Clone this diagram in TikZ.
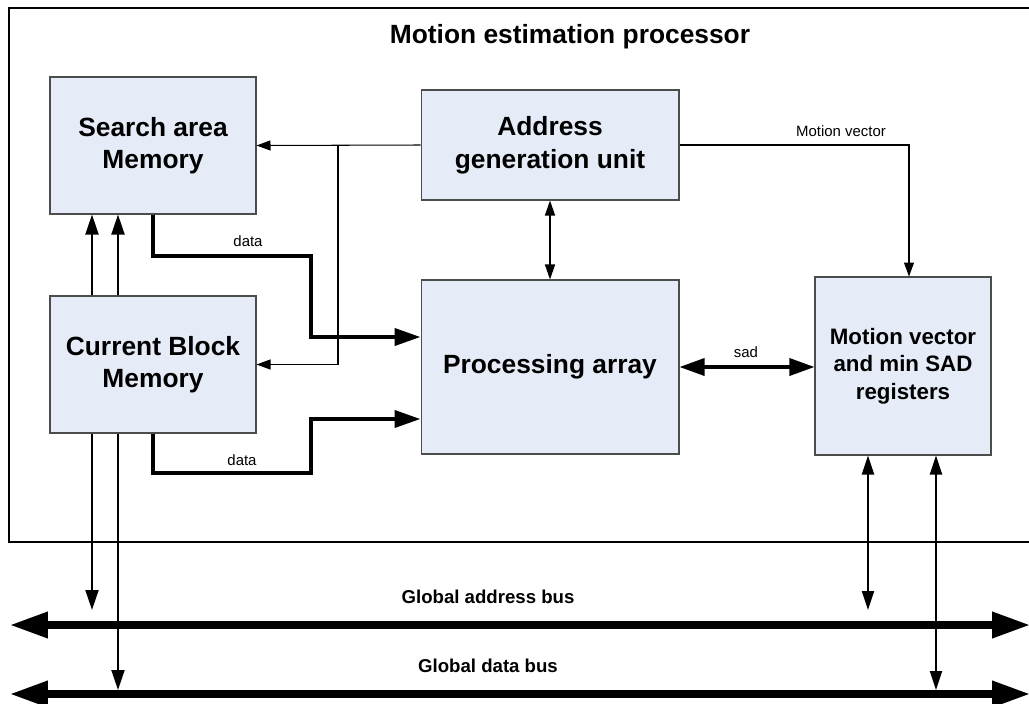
\documentclass[tikz,border=0pt]{standalone}
\usepackage{fontspec}
\setmainfont{Liberation Sans}
\usetikzlibrary{arrows.meta}
\definecolor{boxblue}{RGB}{230,236,247}
\begin{document}
\begin{tikzpicture}[x=0.02cm, y=-0.02cm,
    blk/.style={draw=black!70, fill=boxblue, line width=0.6pt, align=center, inner sep=0pt,
        font=\fontsize{15}{18.5}\selectfont\bfseries},
    lbl/.style={font=\fontsize{8.5}{10}\selectfont},
    buslbl/.style={font=\fontsize{10.6}{12}\selectfont\bfseries},
    sig/.style={line width=0.6pt, -{Triangle[length=0.28cm,width=0.2cm]}},
    ctl/.style={line width=1.1pt, -{Triangle[length=0.4cm,width=0.26cm]}},
    dat/.style={line width=2.3pt, -{Triangle[length=0.52cm,width=0.34cm]}},
    bus/.style={line width=4pt, {Triangle[length=0.76cm,width=0.5cm]}-{Triangle[length=0.76cm,width=0.5cm]}}]
    \useasboundingbox (0,0) rectangle (1029,704);
    % processor frame
    \draw[line width=0.9pt] (1040,8) -- (9,8) -- (9,542) -- (1040,542);
    \node[font=\fontsize{15}{18}\selectfont\bfseries] (title) at (570,37) {Motion estimation processor};
    % blocks
    \node[blk, minimum width=4.12cm, minimum height=2.74cm] (sam) at (153,145.5) {Search area\\Memory};
    \node[blk, minimum width=5.16cm, minimum height=2.2cm] (agu) at (550,145) {Address\\generation unit};
    \node[blk, minimum width=4.12cm, minimum height=2.74cm] (cbm) at (153,364.5) {Current Block\\Memory};
    \node[blk, minimum width=5.16cm, minimum height=3.48cm] (pa) at (550,367) {Processing array};
    \node[blk, minimum width=3.52cm, minimum height=3.56cm, font=\fontsize{12.7}{15.6}\selectfont\bfseries]
        (mv) at (903,366) {Motion vector\\and min SAD\\registers};
    % address lines
    \coordinate (br) at (338,145);
    \draw[sig] (agu.west) -- (sam.east);
    \draw[sig] (br) |- (cbm.east);
    \draw[line width=0.8pt, {Triangle[length=0.3cm,width=0.2cm]}-{Triangle[length=0.3cm,width=0.2cm]}] (agu.south) -- (pa.north);
    \draw[sig] (agu.east) -| (mv.north -| 909,0);
    \node[lbl] (mvlbl) at (841,131) {Motion vector};
    % memory to memory
    \draw[ctl] (cbm.north -| 92,0) -- (sam.south -| 92,0);
    \draw[ctl] (cbm.north -| 118,0) -- (sam.south -| 118,0);
    % data paths
    \draw[dat] (sam.south) |- (311,256) |- (pa.west |- 0,337);
    \node[lbl] (dat1) at (248,241) {data};
    \draw[dat] (cbm.south) |- (311,473) |- (pa.west |- 0,419);
    \node[lbl] (dat2) at (242,460) {data};
    \draw[line width=2pt, {Triangle[length=0.5cm,width=0.34cm]}-{Triangle[length=0.5cm,width=0.34cm]}] (pa.east) -- (mv.west |- pa.east);
    \node[lbl] (sad) at (746,352) {sad};
    % global buses
    \coordinate (abl) at (10,625);
    \coordinate (abr) at (1030,625);
    \coordinate (dbl) at (10,694);
    \coordinate (dbr) at (1030,694);
    \draw[bus] (abl) -- (abr);
    \draw[bus] (dbl) -- (dbr);
    \node[buslbl] (ablbl) at (488,597) {Global address bus};
    \node[buslbl] (dblbl) at (488,666) {Global data bus};
    \draw[ctl] (cbm.south -| 92,0) -- (92,610);
    \draw[ctl] (cbm.south -| 118,0) -- (118,690);
    \draw[ctl, {Triangle[length=0.38cm,width=0.24cm]}-{Triangle[length=0.38cm,width=0.24cm]}] (mv.south -| 868,0) -- (868,610);
    \draw[ctl, {Triangle[length=0.38cm,width=0.24cm]}-{Triangle[length=0.38cm,width=0.24cm]}] (mv.south -| 936,0) -- (936,690);
\end{tikzpicture}
\end{document}
